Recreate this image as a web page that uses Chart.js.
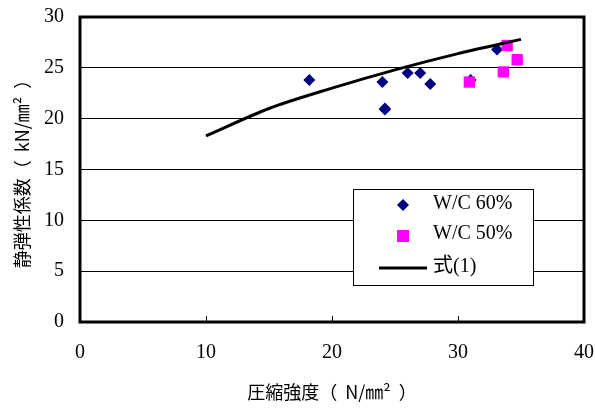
<!DOCTYPE html>
<html>
<head>
<meta charset="utf-8">
<script src="https://cdn.jsdelivr.net/npm/chart.js@4.4.0/dist/chart.umd.min.js"></script>
<style>
  body { margin: 0; background: #fff; }
</style>
</head>
<body>
<canvas id="chart" width="595" height="410"></canvas>
<script>
// 読み取った値
const wc60X = [18.2, 24.0, 24.2, 24.2, 26.0, 27.0, 27.8, 31.0, 33.1];
const wc60Y = [23.8, 23.6, 21.0, 20.9, 24.5, 24.5, 23.4, 23.8, 26.8];
const wc50X = [30.9, 33.6, 33.9, 34.7];
const wc50Y = [23.6, 24.6, 27.2, 25.8];
const eqX = [10, 15, 20, 25, 30, 35];
const eqY = [18.3, 21.0, 23.0, 24.8, 26.4, 27.8];
const seriesNames = ["W/C 60%", "W/C 50%", "式(1)"];
const xTitle = "圧縮強度（  N/㎜²  ）";
const yTitle = "静弾性係数（  kN/㎜²  ）";

const canvas = document.getElementById("chart");

function pts(xs, ys) {
  return xs.map((x, i) => ({ x: x, y: ys[i] }));
}

// 枠線・目盛り・凡例
const framePlugin = {
  id: "frame",
  afterDatasetsDraw(chart) {
    const ctx = chart.ctx;
    const a = chart.chartArea;
    const xs = chart.scales.x;
    ctx.save();
    ctx.strokeStyle = "#000";
    ctx.lineWidth = 1;
    [10, 20, 30].forEach((v) => {
      const px = Math.round(xs.getPixelForValue(v)) + 0.5;
      ctx.beginPath();
      ctx.moveTo(px, a.bottom);
      ctx.lineTo(px, a.bottom - 6);
      ctx.stroke();
    });
    ctx.lineWidth = 3;
    ctx.strokeRect(a.left, a.top, a.right - a.left, a.bottom - a.top);

    // legend
    const bx = 353.5, by = 189.5, bw = 180, bh = 96;
    ctx.fillStyle = "#fff";
    ctx.fillRect(bx, by, bw, bh);
    ctx.lineWidth = 1;
    ctx.strokeRect(bx, by, bw, bh);
    ctx.fillStyle = "#000080";
    ctx.beginPath();
    ctx.moveTo(403, 199);
    ctx.lineTo(409, 205);
    ctx.lineTo(403, 211);
    ctx.lineTo(397, 205);
    ctx.closePath();
    ctx.fill();
    ctx.fillStyle = "#ff00ff";
    ctx.fillRect(397, 230, 12, 12);
    ctx.strokeStyle = "#000";
    ctx.lineWidth = 3;
    ctx.beginPath();
    ctx.moveTo(379, 268);
    ctx.lineTo(427, 268);
    ctx.stroke();
    ctx.fillStyle = "#000";
    ctx.font = "20px 'Liberation Serif', 'Noto Sans CJK JP'";
    ctx.textBaseline = "middle";
    ctx.fillText(seriesNames[0], 433, 204);
    ctx.fillText(seriesNames[1], 433, 234);
    ctx.fillText(seriesNames[2], 433, 267);
    ctx.restore();
  }
};

const data = {
  datasets: [
    {
      label: seriesNames[2],
      data: pts(eqX, eqY),
      showLine: true,
      borderColor: "#000",
      borderWidth: 3,
      pointRadius: 0,
      tension: 0.3,
      order: 0
    },
    {
      label: seriesNames[1],
      data: pts(wc50X, wc50Y),
      pointStyle: "rect",
      pointRadius: 8,
      backgroundColor: "#ff00ff",
      borderColor: "#ff00ff",
      borderWidth: 0,
      order: 1
    },
    {
      label: seriesNames[0],
      data: pts(wc60X, wc60Y),
      pointStyle: "rectRot",
      pointRadius: 6,
      backgroundColor: "#000080",
      borderColor: "#000080",
      borderWidth: 0,
      order: 2
    }
  ]
};

const config = {
  type: "scatter",
  data: data,
  options: {
    responsive: false,
    animation: false,
    layout: { padding: { top: 17, right: 11, left: 0, bottom: 0 } },
    plugins: { legend: { display: false }, tooltip: { enabled: false } },
    scales: {
      x: {
        min: 0,
        max: 40,
        afterFit: (s) => { s.height = 88; s.paddingLeft = 0; s.paddingRight = 0; },
        border: { display: false },
        grid: { display: false, drawTicks: false },
        ticks: {
          stepSize: 10,
          padding: 19,
          color: "#000",
          font: { family: "'Liberation Serif'", size: 20 }
        },
        title: {
          display: true,
          text: xTitle,
          color: "#000",
          padding: { top: 0, bottom: 7 },
          font: { family: "'Noto Sans CJK JP'", size: 18 }
        }
      },
      y: {
        min: 0,
        max: 30,
        afterFit: (s) => { s.width = 80; s.paddingTop = 0; s.paddingBottom = 0; },
        border: { display: false },
        grid: { color: "#000", lineWidth: 1, drawTicks: false },
        ticks: {
          stepSize: 5,
          padding: 16,
          color: "#000",
          font: { family: "'Liberation Serif'", size: 20 }
        },
        title: {
          display: true,
          text: yTitle,
          color: "#000",
          padding: { top: 11, bottom: 0 },
          font: { family: "'Noto Sans CJK JP'", size: 18 }
        }
      }
    }
  },
  plugins: [framePlugin]
};

const chart = new Chart(canvas, config);
</script>
</body>
</html>
